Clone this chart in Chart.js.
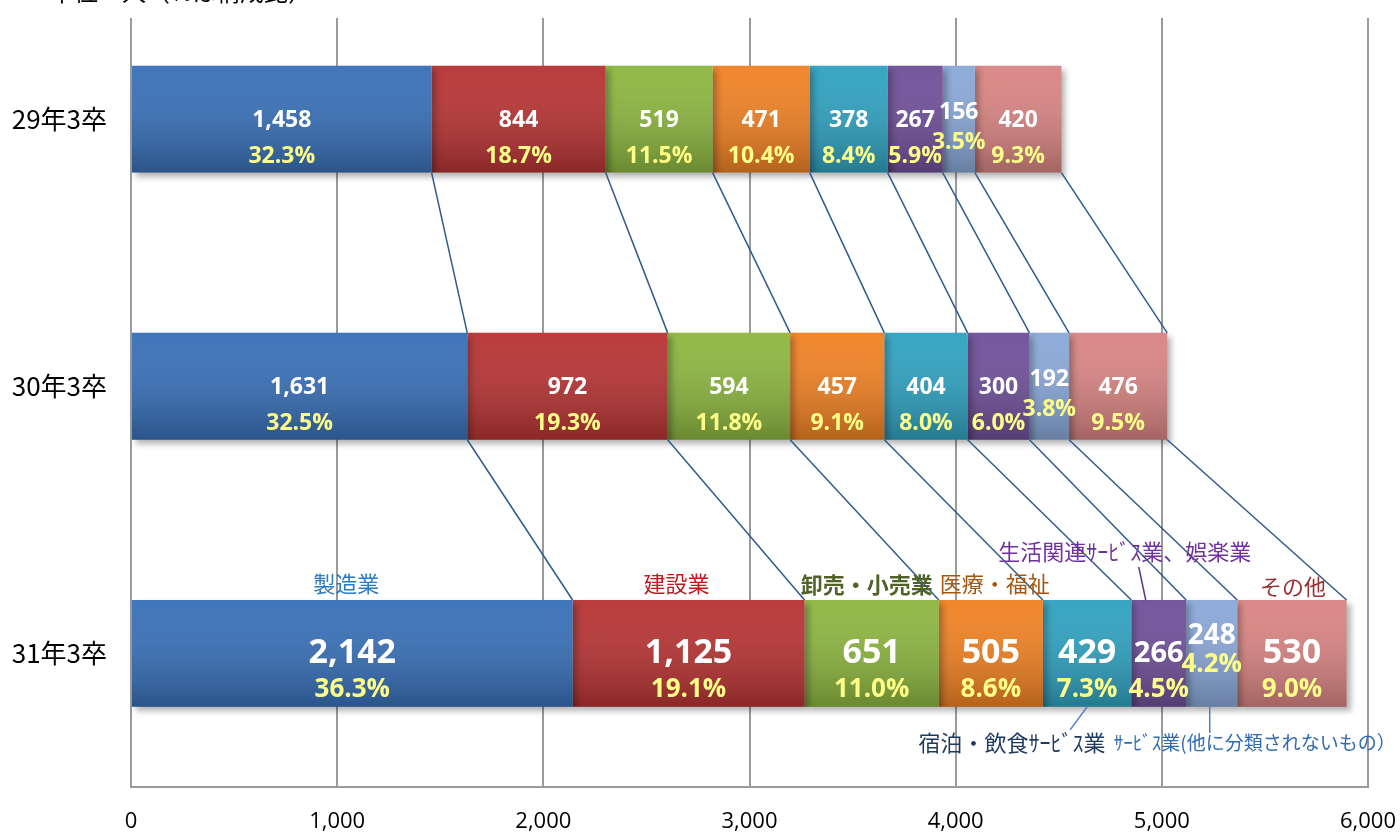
<!DOCTYPE html>
<html lang="ja">
<head>
<meta charset="utf-8">
<title>業種別 就職者数</title>
<script src="https://cdn.jsdelivr.net/npm/chart.js@4.4.1/dist/chart.umd.min.js"></script>
<style>
  html, body { margin: 0; padding: 0; background: #fff; overflow: hidden; }
  #wrap { position: absolute; left: 0; top: -46px; width: 1400px; height: 880px; }
</style>
</head>
<body>
<div id="wrap"><canvas id="industryChart"></canvas></div>
<script>
// categories (rows) and industries (stack segments)
const categories = ['29年3卒', '30年3卒', '31年3卒'];
const industries = [
  '製造業', '建設業', '卸売・小売業', '医療・福祉',
  '宿泊・飲食ｻｰﾋﾞｽ業', '生活関連ｻｰﾋﾞｽ業、娯楽業',
  'ｻｰﾋﾞｽ業(他に分類されないもの）', 'その他',
];

// number of people per industry, one array per year
const values29 = [1458, 844, 519, 471, 378, 267, 156, 420];
const values30 = [1631, 972, 594, 457, 404, 300, 192, 476];
const values31 = [2142, 1125, 651, 505, 429, 266, 248, 530];

// share (%) per industry, one array per year
const share29 = [32.3, 18.7, 11.5, 10.4, 8.4, 5.9, 3.5, 9.3];
const share30 = [32.5, 19.3, 11.8, 9.1, 8.0, 6.0, 3.8, 9.5];
const share31 = [36.3, 19.1, 11.0, 8.6, 7.3, 4.5, 4.2, 9.0];

// x axis ticks
const xTicks = [0, 1000, 2000, 3000, 4000, 5000, 6000];

const valuesByYear = [values29, values30, values31];
const sharesByYear = [share29, share30, share31];

const barColors = ['#3870b8', '#b83434', '#8db640', '#f08224', '#30a2c0', '#70509a', '#8aa8d8', '#d98583'];

// name label styles for the last row (offsets relative to its bar)
const nameStyles = [
  { color: '#2a7dc4', dx: -6, dy: -16, side: 'top' },
  { color: '#c0191e', dx: -12, dy: -16, side: 'top' },
  { color: '#4f6228', dx: -5, dy: -15, side: 'top', bold: true },
  { color: '#a8560f', dx: 4, dy: -16, side: 'top' },
  { color: '#1f3a60', dx: -75, dy: 36, side: 'bottom', leader: [0, 0, -17, 23], leaderColor: '#4a7fc0' },
  { color: '#7030a0', dx: -34, dy: -48, side: 'top', leader: [-20, -33, -13, 0], leaderColor: '#5b3a80' },
  { color: '#2f6cb2', dx: 43, dy: 36, side: 'bottom', size: 19, leader: [-2, 0, -2, 26], leaderColor: '#4a7fc0' },
  { color: '#9c3030', dx: 1, dy: -13, side: 'top' },
];

const numFont = '"Open Sans", "Noto Sans", sans-serif';
const jpFont = '"Noto Sans CJK JP", "Noto Sans", sans-serif';
const topCut = 46; // canvas rows above the window

const datasets = industries.map((name, j) => ({
  label: name,
  data: valuesByYear.map((row) => row[j]),
  backgroundColor: barColors[j],
  borderWidth: 0,
  categoryPercentage: 1,
  barPercentage: 0.4,
}));

const decorPlugin = {
  id: 'decor',
  beforeDatasetsDraw: (chart) => {
    const ctx = chart.ctx;
    // white band at top hides grid ends, title sits there (cut off)
    ctx.save();
    ctx.fillStyle = '#fff';
    ctx.fillRect(0, 0, chart.width, topCut + 18);
    ctx.fillStyle = '#000';
    ctx.font = `24px ${jpFont}`;
    ctx.textAlign = 'left';
    ctx.textBaseline = 'alphabetic';
    ctx.fillText('単位：人（%は構成比）', 50, topCut + 1);
    ctx.restore();

    // drop shadow for bars
    ctx.save();
    ctx.shadowColor = 'rgba(0, 0, 0, 0.3)';
    ctx.shadowBlur = 6;
    ctx.shadowOffsetX = 4;
    ctx.shadowOffsetY = 4;
  },
  afterDatasetsDraw: (chart) => {
    const ctx = chart.ctx;
    ctx.restore();
    const metas = industries.map((_, j) => chart.getDatasetMeta(j));

    // gradient shading on each bar
    metas.forEach((meta) => {
      meta.data.forEach((bar) => {
        const top = bar.y - bar.height / 2;
        const bottom = bar.y + bar.height / 2;
        const grad = ctx.createLinearGradient(0, top, 0, bottom);
        grad.addColorStop(0, 'rgba(255, 255, 255, 0.04)');
        grad.addColorStop(1, 'rgba(0, 0, 0, 0.25)');
        ctx.fillStyle = grad;
        ctx.fillRect(bar.base, top, bar.x - bar.base, bottom - top);
      });
    });

    // series lines between rows
    ctx.save();
    ctx.strokeStyle = '#2f5a8c';
    ctx.lineWidth = 1.5;
    metas.forEach((meta) => {
      for (let i = 0; i < categories.length - 1; i++) {
        const a = meta.data[i];
        const b = meta.data[i + 1];
        ctx.beginPath();
        ctx.moveTo(a.x, a.y + a.height / 2);
        ctx.lineTo(b.x, b.y - b.height / 2);
        ctx.stroke();
      }
    });
    ctx.restore();

    // value and share labels
    ctx.save();
    ctx.textAlign = 'center';
    ctx.textBaseline = 'middle';
    categories.forEach((_, i) => {
      const big = i === categories.length - 1;
      metas.forEach((meta, j) => {
        const bar = meta.data[i];
        const cx = (bar.x + bar.base) / 2;
        let dv = big ? 0 : 1;
        let dp = big ? 36 : 37;
        let vs = big ? 34 : 23;
        if (j === 6) {
          dv = big ? -17 : -7;
          dp = big ? 11 : 23;
          if (big) vs = 28;
        }
        if (big && j === 5) vs = 29;
        ctx.fillStyle = '#ffffff';
        ctx.font = `bold ${vs}px ${numFont}`;
        ctx.fillText(valuesByYear[i][j].toLocaleString('en-US'), cx, bar.y + dv);
        ctx.fillStyle = '#ffff88';
        ctx.font = `bold ${big ? 26 : 23}px ${numFont}`;
        ctx.fillText(sharesByYear[i][j].toFixed(1) + '%', cx, bar.y + dp);
      });
    });

    // industry names around the last row
    const last = categories.length - 1;
    metas.forEach((meta, j) => {
      const bar = meta.data[last];
      const st = nameStyles[j];
      const cx = (bar.x + bar.base) / 2;
      const edge = st.side === 'top' ? bar.y - bar.height / 2 : bar.y + bar.height / 2;
      if (st.leader) {
        ctx.strokeStyle = st.leaderColor;
        ctx.lineWidth = 1.5;
        ctx.beginPath();
        ctx.moveTo(cx + st.leader[0], edge + st.leader[1]);
        ctx.lineTo(cx + st.leader[2], edge + st.leader[3]);
        ctx.stroke();
      }
      ctx.fillStyle = st.color;
      ctx.font = `${st.bold ? 'bold ' : ''}${st.size || 22}px ${jpFont}`;
      ctx.fillText(industries[j], cx + st.dx, edge + st.dy);
    });
    ctx.restore();
  },
};

new Chart('industryChart', {
  type: 'bar',
  data: { labels: categories, datasets },
  options: {
    indexAxis: 'y',
    responsive: true,
    maintainAspectRatio: false,
    animation: false,
    layout: { padding: { top: 0, right: 32, bottom: 0, left: 0 } },
    plugins: {
      legend: { display: false },
      tooltip: { enabled: false },
    },
    scales: {
      x: {
        type: 'linear',
        stacked: true,
        min: xTicks[0],
        max: xTicks[xTicks.length - 1],
        afterBuildTicks: (scale) => {
          scale.ticks = xTicks.map((v) => ({ value: v }));
        },
        afterFit: (scale) => {
          scale.height = 47;
          scale.paddingLeft = 0;
          scale.paddingRight = 0;
        },
        ticks: {
          color: '#000',
          padding: 22,
          maxRotation: 0,
          font: { family: numFont, size: 22 },
          callback: (v) => Number(v).toLocaleString('en-US'),
        },
        grid: { color: '#9a9a9a', lineWidth: 2, drawTicks: false },
        border: { color: '#9a9a9a', width: 2 },
      },
      y: {
        stacked: true,
        afterFit: (scale) => {
          scale.width = 131;
        },
        ticks: {
          color: '#000',
          padding: 16,
          font: { family: jpFont, size: 26 },
        },
        grid: { display: false },
        border: { color: '#9a9a9a', width: 2 },
      },
    },
  },
  plugins: [decorPlugin],
});
</script>
</body>
</html>
